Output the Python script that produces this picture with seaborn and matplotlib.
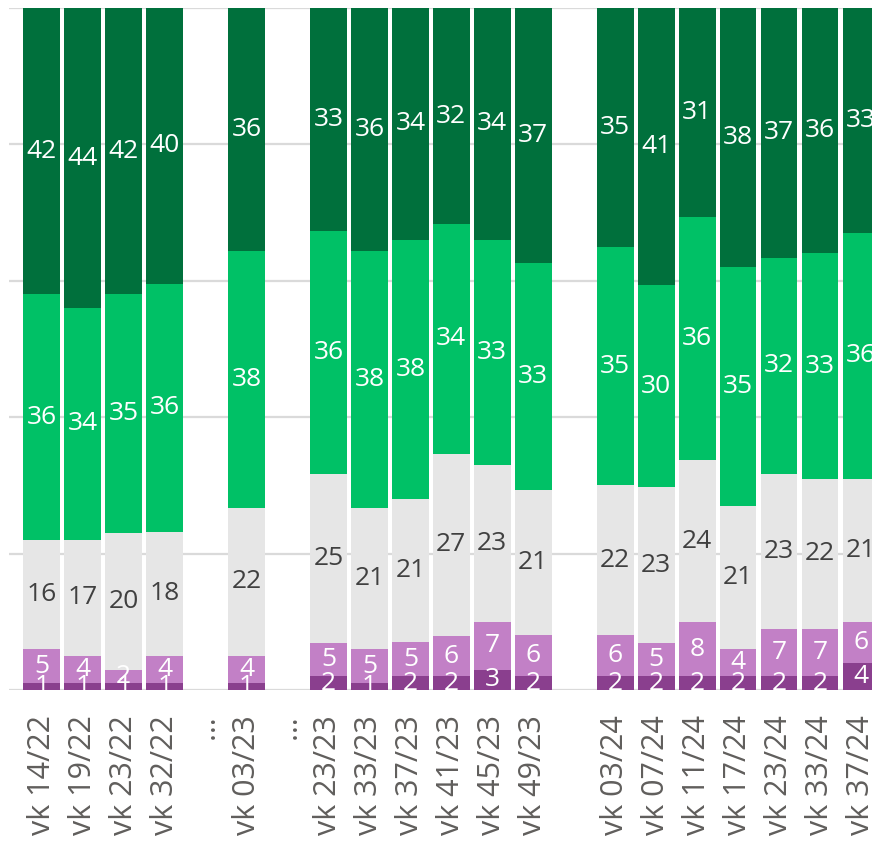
import numpy as np
import pandas as pd
import matplotlib

matplotlib.use('Agg')
import matplotlib.pyplot as plt
import seaborn as sns

# kategorier (tomma platser = luckor i diagrammet)
slots = ['vk 14/22', 'vk 19/22', 'vk 23/22', 'vk 32/22', 'gap1', 'vk 03/23', 'gap2',
         'vk 23/23', 'vk 33/23', 'vk 37/23', 'vk 41/23', 'vk 45/23', 'vk 49/23', 'gap3',
         'vk 03/24', 'vk 07/24', 'vk 11/24', 'vk 17/24', 'vk 23/24', 'vk 33/24', 'vk 37/24']
tick_labels = ['vk 14/22', 'vk 19/22', 'vk 23/22', 'vk 32/22', '…', 'vk 03/23', '…',
               'vk 23/23', 'vk 33/23', 'vk 37/23', 'vk 41/23', 'vk 45/23', 'vk 49/23', '',
               'vk 03/24', 'vk 07/24', 'vk 11/24', 'vk 17/24', 'vk 23/24', 'vk 33/24', 'vk 37/24']

weeks = ['vk 14/22', 'vk 19/22', 'vk 23/22', 'vk 32/22', 'vk 03/23',
         'vk 23/23', 'vk 33/23', 'vk 37/23', 'vk 41/23', 'vk 45/23', 'vk 49/23',
         'vk 03/24', 'vk 07/24', 'vk 11/24', 'vk 17/24', 'vk 23/24', 'vk 33/24', 'vk 37/24']

# serier, nerifrån och upp
dark_purple = [1, 1, 1, 1, 1, 2, 1, 2, 2, 3, 2, 2, 2, 2, 2, 2, 2, 4]
light_purple = [5, 4, 2, 4, 4, 5, 5, 5, 6, 7, 6, 6, 5, 8, 4, 7, 7, 6]
grey = [16, 17, 20, 18, 22, 25, 21, 21, 27, 23, 21, 22, 23, 24, 21, 23, 22, 21]
light_green = [36, 34, 35, 36, 38, 36, 38, 38, 34, 33, 33, 35, 30, 36, 35, 32, 33, 36]
dark_green = [42, 44, 42, 40, 36, 33, 36, 34, 32, 34, 37, 35, 41, 31, 38, 37, 36, 33]

series = [dark_purple, light_purple, grey, light_green, dark_green]
colors = ['#8A3F8E', '#C280C6', '#E6E6E6', '#00C166', '#00703C']
text_colors = ['white', 'white', '#404040', 'white', 'white']

vals = np.array(series, dtype=float)
shares = vals / vals.sum(axis=0) * 100
cum = np.cumsum(shares, axis=0)

fig = plt.figure(figsize=(8.72, 8.47), dpi=100)
ax = fig.add_axes([0.0103, 0.1854, 0.9897, 0.8052])
sns.set_style('white')
plt.rcParams['font.family'] = ['Open Sans', 'DejaVu Sans']

# staplade staplar: rita kumulativa summor uppifrån och ned
for i in range(len(series) - 1, -1, -1):
    df = pd.DataFrame({'week': weeks, 'value': cum[i]})
    sns.barplot(data=df, x='week', y='value', order=slots, color=colors[i],
                width=0.9, saturation=1, linewidth=0, ax=ax, zorder=2)

pos = {s: k for k, s in enumerate(slots)}
for i in range(len(series)):
    for j, w in enumerate(weeks):
        y = cum[i, j] - shares[i, j] / 2
        ax.text(pos[w], y, f'{int(vals[i, j])}', ha='center', va='center',
                color=text_colors[i], fontsize=19, clip_on=True, zorder=3,
                family=['Open Sans', 'DejaVu Sans'])

ax.set_ylim(0, 100)
ax.set_xlim(-0.80, 20.27)
ax.set_yticks(np.arange(0, 101, 20))
ax.set_yticklabels([])
ax.tick_params(axis='y', length=0)
ax.grid(True, axis='y', color='#DADADA', linewidth=1.6, zorder=0)
ax.set_axisbelow(True)
ax.set_xticks(range(len(slots)))
ax.set_xticklabels(tick_labels, rotation=90, fontsize=22, color='#605E5C',
                   family=['Open Sans', 'DejaVu Sans'])
ax.tick_params(axis='x', length=0, pad=18)
ax.set_xlabel('')
ax.set_ylabel('')
for sp in ax.spines.values():
    sp.set_visible(False)

fig.savefig('out.png', dpi=100)
